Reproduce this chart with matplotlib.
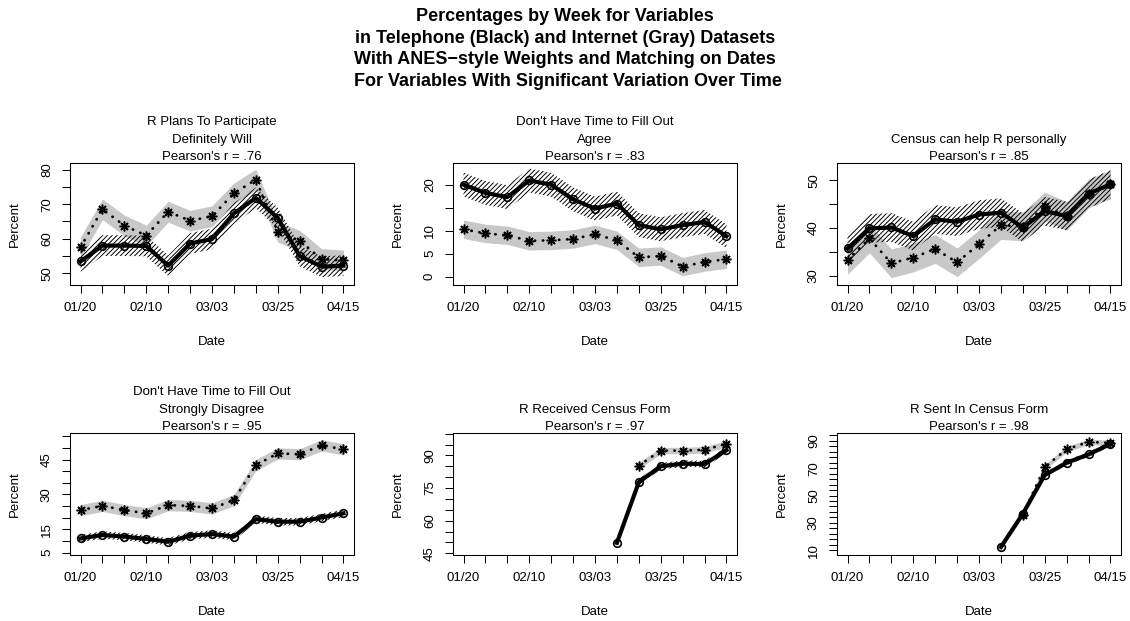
import numpy as np
import matplotlib
matplotlib.use("Agg")
import matplotlib.pyplot as plt

plt.rcParams['font.family'] = ['Liberation Sans', 'DejaVu Sans']
plt.rcParams['hatch.linewidth'] = 0.7

nan = np.nan

# weekly survey waves
weeks = list(range(13))
date_ticks = [0, 3, 6, 9, 12]
date_labels = ['01/20', '02/10', '03/03', '03/25', '04/15']

# --- series: telephone (black) and internet (gray) percentages ---
plans_phone = [53.4, 58.0, 58.0, 57.9, 52.2, 58.6, 59.9, 67.3, 71.8, 66.0, 55.0, 51.9, 52.2]
plans_web = [57.5, 68.5, 63.8, 60.9, 67.8, 65.2, 66.5, 73.1, 77.1, 62.0, 59.4, 54.1, 53.7]

notime_agree_phone = [20.0, 18.2, 17.3, 20.9, 20.0, 16.8, 14.8, 15.9, 11.2, 10.3, 11.2, 11.9, 8.8]
notime_agree_web = [10.3, 9.4, 9.0, 7.8, 7.9, 8.2, 9.2, 7.9, 4.2, 4.5, 2.2, 3.2, 3.8]

helps_phone = [35.7, 39.9, 40.1, 38.3, 41.8, 41.3, 42.8, 43.2, 40.1, 43.5, 42.5, 47.2, 49.1]
helps_web = [33.3, 37.8, 32.6, 33.8, 35.6, 32.8, 36.6, 40.6, 40.3, 44.5, 42.5, 47.2, 49.1]

notime_disagree_phone = [11.1, 12.6, 11.9, 10.9, 9.7, 12.3, 13.0, 11.9, 19.4, 18.3, 18.3, 20.1, 21.9]
notime_disagree_web = [23.3, 25.1, 23.3, 21.9, 25.4, 25.1, 24.0, 27.6, 42.6, 47.6, 47.3, 51.1, 49.4]

received_phone = [nan] * 7 + [49.8, 77.7, 85.0, 86.2, 86.0, 92.4]
received_web = [nan] * 8 + [85.3, 92.2, 92.2, 92.6, 95.3]

sent_phone = [nan] * 7 + [12.2, 36.6, 65.0, 74.0, 80.1, 87.8]
sent_web = [nan] * 8 + [35.7, 70.9, 83.9, 89.3, 88.5]

# confidence half-widths (percentage points)
ci_phone = [3.0, 2.6, 3.0, 1.6, 1.5, 1.8]
ci_web = [3.0, 2.0, 3.0, 2.4, 1.5, 2.0]

titles = [
    "R Plans To Participate\nDefinitely Will\nPearson's r = .76",
    "Don't Have Time to Fill Out\nAgree\nPearson's r = .83",
    "Census can help R personally\nPearson's r = .85",
    "Don't Have Time to Fill Out\nStrongly Disagree\nPearson's r = .95",
    "R Received Census Form\nPearson's r = .97",
    "R Sent In Census Form\nPearson's r = .98",
]
phone_series = [plans_phone, notime_agree_phone, helps_phone,
                notime_disagree_phone, received_phone, sent_phone]
web_series = [plans_web, notime_agree_web, helps_web,
              notime_disagree_web, received_web, sent_web]

ylims = [(46.6, 81.9), (-1.8, 24.7), (28.05, 53.6),
         (4.0, 56.4), (44.2, 100.3), (6.4, 95.8)]
yticks = [np.arange(50, 81, 5), np.arange(0, 21, 5), np.arange(30, 51, 5),
          np.arange(5, 56, 5), np.arange(45, 101, 5), np.arange(10, 95, 4)]
ylabeled = [[50, 60, 70, 80], [0, 5, 10, 20], [30, 40, 50],
            [5, 15, 30, 45], [45, 60, 75, 90], [10, 30, 50, 70, 90]]

W, H = 1130, 621
fig = plt.figure(figsize=(W / 100, H / 100), dpi=100)

lefts = [70, 453, 837]
tops = [163, 433]
box_w, box_h = 284, 122

fig.text(0.5, 1 - 8 / H,
         "Percentages by Week for Variables\n"
         "in Telephone (Black) and Internet (Gray) Datasets\n"
         "With ANES\u2212style Weights and Matching on Dates\n"
         " For Variables With Significant Variation Over Time",
         ha='center', va='top', fontsize=13, fontweight='bold', linespacing=1.36)

x = np.array(weeks, dtype=float)
for i in range(6):
    r, c = divmod(i, 3)
    left, top = lefts[c], tops[r]
    ax = fig.add_axes([left / W, 1 - (top + box_h) / H, box_w / W, box_h / H])
    ph = np.array(phone_series[i], dtype=float)
    wb = np.array(web_series[i], dtype=float)

    ax.fill_between(x, wb - ci_web[i], wb + ci_web[i], color='#c8c8c8', lw=0, zorder=1)
    ax.fill_between(x, ph - ci_phone[i], ph + ci_phone[i], facecolor='none',
                    edgecolor='black', hatch='///////', lw=0, zorder=2)
    ax.plot(x, ph, color='black', lw=3.0, marker='o', mfc='none', mec='black',
            ms=5.5, mew=1.2, zorder=3)
    ax.plot(x, wb, color='black', lw=2.0, ls=(0, (0.1, 2.8)), dash_capstyle='round',
            marker=(8, 2, 0), ms=7, mew=1.1, zorder=4)

    ax.set_xlim(-0.48, 12.48)
    ax.set_ylim(*ylims[i])
    ax.set_xticks(weeks)
    ax.set_xticklabels([date_labels[date_ticks.index(w)] if w in date_ticks else ''
                        for w in weeks])
    ax.set_yticks(yticks[i])
    ax.set_yticklabels([str(int(t)) if t in ylabeled[i] else '' for t in yticks[i]])
    ax.tick_params(direction='out', length=5.8, width=0.75, labelsize=9.5, pad=6.5)
    ax.tick_params(axis='y', labelrotation=90)
    for lab in ax.get_yticklabels():
        lab.set_va('center')
    for s in ax.spines.values():
        s.set_linewidth(0.75)

    ax.set_title(titles[i], fontsize=9.5, linespacing=1.6, pad=2)

    cx = (left + box_w / 2) / W
    fig.text(cx, 1 - (top + box_h + 57) / H, 'Date', ha='center', va='center', fontsize=9.5)
    fig.text((left - 55) / W, 1 - (top + box_h / 2) / H, 'Percent', ha='center',
             va='center', rotation=90, fontsize=9.5)

fig.savefig('out.png', dpi=100)
